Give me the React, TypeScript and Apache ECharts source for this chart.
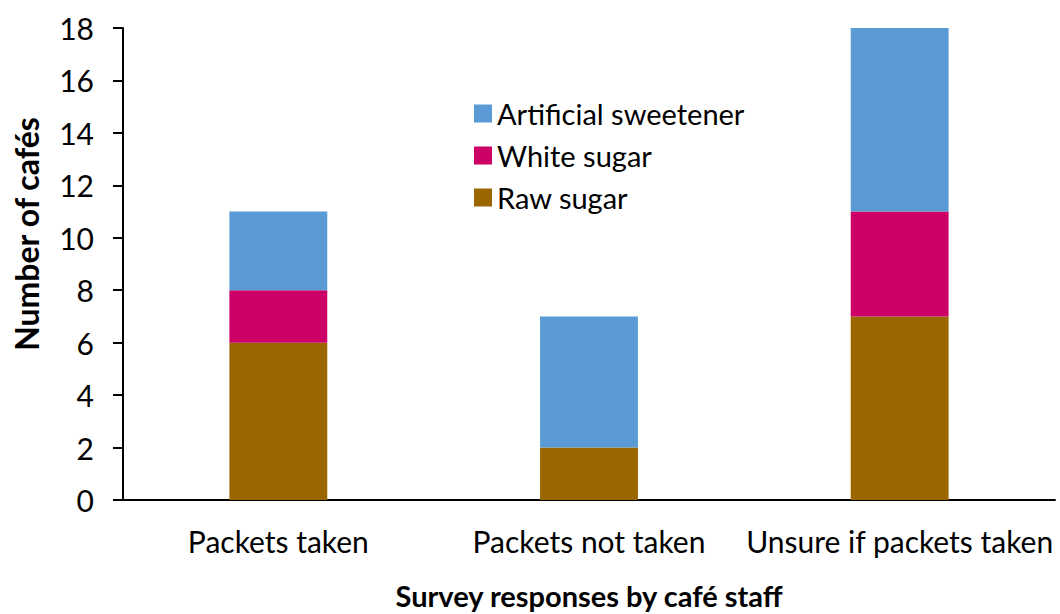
import React, { useEffect, useRef } from "react";
import * as echarts from "echarts";

const categories = ["Packets taken", "Packets not taken", "Unsure if packets taken"];
const rawSugar = [6, 2, 7];
const whiteSugar = [2, 0, 4];
const artificialSweetener = [3, 5, 7];
const yTicks = { min: 0, max: 18, interval: 2 };

const FONT = "Lato, 'Open Sans', sans-serif";

export default function App() {
  const ref = useRef<HTMLDivElement>(null);

  useEffect(() => {
    if (!ref.current) return;
    const chart = echarts.init(ref.current, null, { renderer: "svg" });
    const barWidth = "31.5%";
    chart.setOption({
      animation: false,
      textStyle: { fontFamily: FONT },
      grid: {
        left: 123,
        right: 5,
        top: 28,
        bottom: 114,
        containLabel: false,
        outerBoundsMode: "none",
      },
      legend: {
        orient: "vertical",
        left: 469,
        top: 94,
        itemWidth: 18,
        itemHeight: 18,
        itemGap: 13,
        icon: "rect",
        data: ["Artificial sweetener", "White sugar", "Raw sugar"],
        textStyle: {
          fontFamily: FONT,
          fontSize: 29,
          lineHeight: 29,
          color: "#000",
          padding: 0,
        },
      },
      xAxis: {
        type: "category",
        data: categories,
        name: "Survey responses by café staff",
        nameLocation: "middle",
        nameGap: 81,
        nameTextStyle: {
          fontFamily: FONT,
          fontSize: 29,
          lineHeight: 29,
          fontWeight: "bold",
          color: "#000",
        },
        axisLine: { lineStyle: { color: "#000", width: 2 } },
        axisTick: { show: false },
        axisLabel: { interval: 0, fontFamily: FONT, fontSize: 30, color: "#000", margin: 26 },
      },
      yAxis: {
        type: "value",
        min: yTicks.min,
        max: yTicks.max,
        interval: yTicks.interval,
        name: "Number of cafés",
        nameLocation: "middle",
        nameGap: 81,
        nameTextStyle: {
          fontFamily: FONT,
          fontSize: 32,
          fontWeight: "bold",
          color: "#000",
          padding: [0, 0, 0, 60],
        },
        axisLine: { show: true, lineStyle: { color: "#000", width: 2 } },
        axisTick: { show: true, length: 10, lineStyle: { color: "#000", width: 2 } },
        axisLabel: { fontFamily: FONT, fontSize: 30, color: "#000", margin: 29 },
        splitLine: { show: false },
      },
      series: [
        {
          name: "Raw sugar",
          type: "bar",
          stack: "total",
          barWidth,
          data: rawSugar,
          itemStyle: { color: "#996600" },
        },
        {
          name: "White sugar",
          type: "bar",
          stack: "total",
          barWidth,
          data: whiteSugar,
          itemStyle: { color: "#CC0066" },
        },
        {
          name: "Artificial sweetener",
          type: "bar",
          stack: "total",
          barWidth,
          data: artificialSweetener,
          itemStyle: { color: "#5B9BD5" },
        },
      ],
    });
    return () => chart.dispose();
  }, []);

  return (
    <div
      ref={ref}
      style={{ width: 1060, height: 614, position: "fixed", left: 0, top: 0, background: "#fff" }}
    />
  );
}
